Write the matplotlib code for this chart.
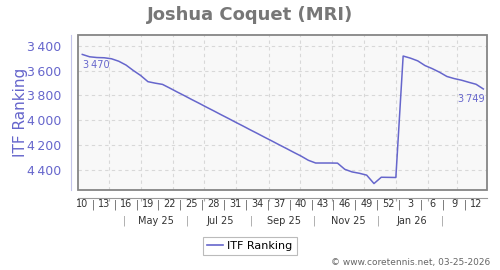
import datetime as dt
import matplotlib
matplotlib.use("Agg")
import matplotlib.pyplot as plt
import matplotlib.dates as mdates
from matplotlib.patches import Rectangle
from matplotlib.transforms import blended_transform_factory

# ---- data ----
player = "Joshua Coquet (MRI)"
series_name = "ITF Ranking"
years = [2025] * 43 + [2026] * 13
weeks = list(range(10, 53)) + list(range(1, 14))
ranking = [3470, 3489, 3495, 3497, 3505, 3525, 3556, 3600, 3640, 3690,
           3702, 3712, 3742, 3773, 3803, 3834, 3864, 3895, 3925, 3956,
           3986, 4017, 4047, 4078, 4108, 4139, 4169, 4200, 4230, 4261,
           4291, 4325, 4347, 4347, 4347, 4348, 4398, 4419, 4430, 4445,
           4513, 4462, 4463, 4464, 3483, 3500, 3522, 3560, 3585, 3614,
           3648, 3665, 3678, 3695, 3711, 3749]
y_ticks = [3400, 3600, 3800, 4000, 4200, 4400]
month_labels = ["May 25", "Jul 25", "Sep 25", "Nov 25", "Jan 26"]
month_label_dates = [(2025, 5), (2025, 7), (2025, 9), (2025, 11), (2026, 1)]
month_sep_dates = [(2025, 4), (2025, 6), (2025, 8), (2025, 10), (2025, 12), (2026, 2)]
footer = "\u00a9 www.coretennis.net, 03-25-2026"

dates = [dt.date.fromisocalendar(y, w, 4) for y, w in zip(years, weeks)]
xnum = mdates.date2num(dates)

LINE = "#6666cc"
fig = plt.figure(figsize=(5, 2.7), dpi=100)
ax = fig.add_axes([0.156, 0.2963, 0.818, 0.5741])
ax.set_facecolor("#f8f8f8")

ax.plot(xnum, ranking, color=LINE, lw=1.1, zorder=3)

step = xnum[1] - xnum[0]
ax.set_xlim(xnum[0] - 0.59 * step, xnum[-1] + 0.5 * step)
ax.set_ylim(4565, 3313)

# frame
ax.add_patch(Rectangle((0, 0), 1, 1, transform=ax.transAxes, fill=False,
                       ec="#858585", lw=1.3, clip_on=False, zorder=5))
ax.spines["top"].set_visible(False)
ax.spines["right"].set_visible(False)
ax.spines["left"].set_position(("outward", 5))
ax.spines["left"].set_color("#c4c4ea")
ax.spines["bottom"].set_position(("outward", 6))
ax.spines["bottom"].set_color("#999999")

# y axis
ax.set_yticks(y_ticks)
ax.set_yticklabels([f"{v:,}".replace(",", "\u2009") for v in y_ticks])
ax.tick_params(axis="y", length=0, pad=7, labelsize=9, labelcolor=LINE)
ax.set_ylabel(series_name, color=LINE, fontsize=11)
ax.yaxis.set_label_coords(-0.122, 0.5)

# x axis: month grid, week labels as text
ax.xaxis.set_major_locator(mdates.MonthLocator())
ax.xaxis.set_major_formatter(plt.NullFormatter())
ax.tick_params(axis="x", length=2, color="#aaaaaa")
ax.grid(True, ls=(0, (3, 3)), color="#d8d8d8", lw=0.8)
ax.set_axisbelow(True)

trans = blended_transform_factory(ax.transData, ax.transAxes)
for i in range(0, len(weeks), 3):
    ax.text(xnum[i], -0.093, str(weeks[i]), transform=trans, ha="center",
            va="center", fontsize=7, color="#333333")
    if i + 3 < len(weeks):
        ax.text(xnum[i] + 1.5 * step, -0.093, "|", transform=trans, ha="center",
                va="center", fontsize=7, color="#555555")
for (y, m), lab in zip(month_label_dates, month_labels):
    ax.text(mdates.date2num(dt.date(y, m, 16)), -0.2, lab, transform=trans,
            ha="center", va="center", fontsize=7, color="#333333")
for (y, m) in month_sep_dates:
    ax.text(mdates.date2num(dt.date(y, m, 15)), -0.2, "|", transform=trans,
            ha="center", va="center", fontsize=7, color="#999999")

# end labels
ax.annotate(f"{ranking[0]:,}".replace(",", "\u2009"), (xnum[0], ranking[0]),
            xytext=(10, -7.5), textcoords="offset points", ha="center",
            va="center", fontsize=7, color=LINE)
ax.annotate(f"{ranking[-1]:,}".replace(",", "\u2009"), (xnum[-1], ranking[-1]),
            xytext=(-8.5, -7), textcoords="offset points", ha="center",
            va="center", fontsize=7, color=LINE)

fig.text(0.5, 1 - 15 / 270, player, ha="center", va="center", fontsize=13,
         fontweight="bold", color="#777777")

handle = plt.Line2D([], [], color=LINE, lw=1.2)
leg = fig.legend([handle], [series_name], loc="center",
                 bbox_to_anchor=(0.5, 1 - 246 / 270), fontsize=8,
                 frameon=True, fancybox=False, handlelength=1.4,
                 handletextpad=0.4, borderpad=0.35, borderaxespad=0)
leg.get_frame().set_edgecolor("#aaaaaa")
leg.get_frame().set_linewidth(0.8)

fig.text(0.98, 1 - 263 / 270, footer, ha="right", va="center", fontsize=6.5,
         color="#666666")

fig.savefig("out.png", dpi=100)
